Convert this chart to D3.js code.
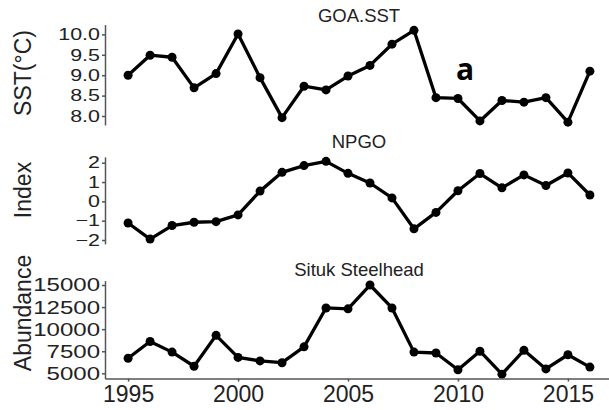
<!DOCTYPE html>
<html>
<head>
<meta charset="utf-8">
<script src="https://cdn.jsdelivr.net/npm/d3@7"></script>
<style>
  body { margin: 0; background: #fff; }
  svg { display: block; font-family: "Liberation Sans", Arial, sans-serif; }
  .line { fill: none; stroke: #000; stroke-width: 3.3; stroke-linejoin: round; }
  .dot { fill: #000; }
  .axis path, .axis line { stroke: #555; stroke-width: 1.5; }
  .axis text { fill: #222; }
</style>
</head>
<body>
<div id="chart"></div>
<script>
var years = [1995, 1996, 1997, 1998, 1999, 2000, 2001, 2002, 2003, 2004, 2005,
	2006, 2007, 2008, 2009, 2010, 2011, 2012, 2013, 2014, 2015, 2016];

var sst = [9.00, 9.49, 9.44, 8.69, 9.04, 10.01, 8.94, 7.96, 8.73, 8.64, 8.98,
	9.24, 9.76, 10.10, 8.45, 8.43, 7.88, 8.38, 8.34, 8.45, 7.85, 9.10];
var npgo = [-1.12, -1.95, -1.25, -1.08, -1.05, -0.70, 0.53, 1.50, 1.85, 2.07, 1.45,
	0.95, 0.18, -1.42, -0.57, 0.55, 1.44, 0.70, 1.37, 0.82, 1.47, 0.33];
var steelhead = [6700, 8600, 7400, 5800, 9300, 6800, 6400, 6200, 8000, 12400, 12300,
	15000, 12400, 7400, 7300, 5400, 7500, 4900, 7600, 5500, 7100, 5700];

var sstTicks = [8.0, 8.5, 9.0, 9.5, 10.0];
var npgoTicks = [-2, -1, 0, 1, 2];
var steelheadTicks = [5000, 7500, 10000, 12500, 15000];
var yearTicks = [1995, 2000, 2005, 2010, 2015];

var titles = ["GOA.SST", "NPGO", "Situk Steelhead"];
var yTitles = ["SST(\u00B0C)", "Index", "Abundance"];

var width = 609, height = 410;

var svg = d3.select("#chart").append("svg")
	.attr("width", width)
	.attr("height", height);

// x goes a bit past the right edge, like the cropped original
var x = d3.scaleLinear().domain([1993.95, 2017.05]).range([105, 613]);

var panels = [
	{ values: sst, ticks: sstTicks, fmt: d3.format(".1f"), domain: [7.78, 10.24], range: [125, 24.6],
	  title: titles[0], yTitle: yTitles[0], titleY: 22, yTitleY: 73, fontSize: 16.5 },
	{ values: npgo, ticks: npgoTicks, fmt: d3.format("d"), domain: [-2.2, 2.3], range: [243.9, 156.9],
	  title: titles[1], yTitle: yTitles[1], titleY: 148, yTitleY: 190, fontSize: 16.5 },
	{ values: steelhead, ticks: steelheadTicks, fmt: d3.format("d"), domain: [4400, 15500], range: [378.6, 280.6],
	  title: titles[2], yTitle: yTitles[2], titleY: 276, yTitleY: 313, fontSize: 18.5 }
];

panels.forEach(function(p) {
	var y = d3.scaleLinear().domain(p.domain).range(p.range);

	var yAxis = svg.append("g")
		.attr("class", "axis")
		.attr("transform", "translate(" + x.range()[0] + ",0)")
		.call(d3.axisLeft(y).tickValues(p.ticks).tickFormat(p.fmt)
			.tickSize(3).tickSizeOuter(0).tickPadding(2));

	// tick labels in the original are wide and squeezed together
	yAxis.selectAll("text")
		.attr("font-size", p.fontSize)
		.attr("x", -5 / 1.3)
		.attr("transform", "scale(1.3,1)");

	var line = d3.line()
		.x(function(d, i) { return x(years[i]); })
		.y(function(d) { return y(d); });

	svg.append("path")
		.datum(p.values)
		.attr("class", "line")
		.attr("d", line);

	svg.selectAll(null)
		.data(p.values)
		.enter().append("circle")
		.attr("class", "dot")
		.attr("cx", function(d, i) { return x(years[i]); })
		.attr("cy", function(d) { return y(d); })
		.attr("r", 4.5);

	svg.append("text")
		.attr("x", (x.range()[0] + x.range()[1]) / 2)
		.attr("y", p.titleY)
		.attr("text-anchor", "middle")
		.attr("font-size", 18.5)
		.attr("fill", "#222")
		.text(p.title);

	svg.append("text")
		.attr("transform", "translate(31," + p.yTitleY + ") rotate(-90)")
		.attr("text-anchor", "middle")
		.attr("font-size", 23)
		.attr("fill", "#222")
		.text(p.yTitle);
});

var xAxis = svg.append("g")
	.attr("class", "axis")
	.attr("transform", "translate(0," + panels[2].range[0] + ")")
	.call(d3.axisBottom(x).tickValues(yearTicks).tickFormat(d3.format("d"))
		.tickSize(3).tickSizeOuter(0).tickPadding(4));

xAxis.select(".domain").attr("stroke", "#777").attr("stroke-width", 2);
xAxis.selectAll("text").attr("font-size", 23);

// panel letter
svg.append("text")
	.attr("x", 465)
	.attr("y", 80)
	.attr("text-anchor", "middle")
	.attr("font-size", 30)
	.attr("font-weight", "bold")
	.attr("font-family", "'Open Sans', sans-serif")
	.attr("fill", "#000")
	.text("a");
</script>
</body>
</html>
